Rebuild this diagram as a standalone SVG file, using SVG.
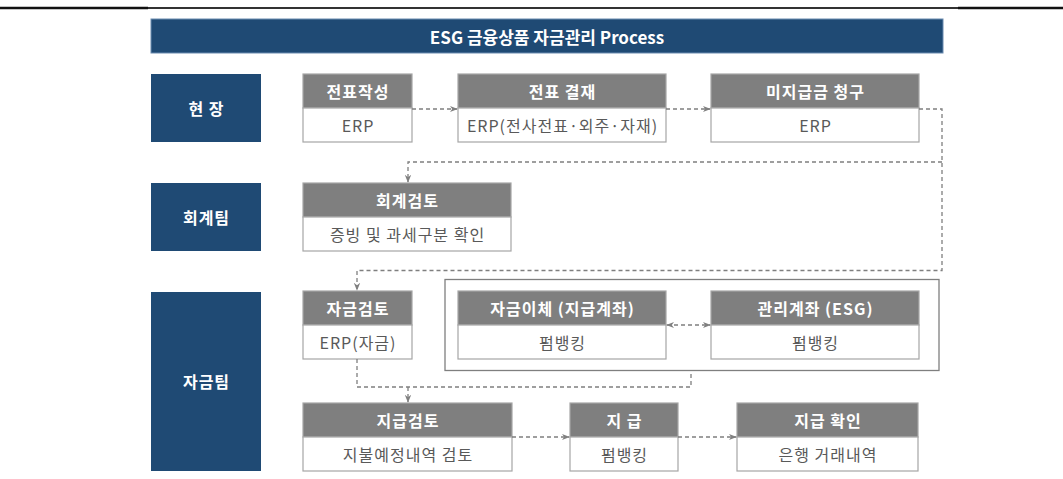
<svg xmlns="http://www.w3.org/2000/svg" width="1063" height="479" viewBox="0 0 1063 479">
<defs>
<style>
.lbl{fill:#1f4a74;}
.lbt{fill:#ffffff;font-family:"Noto Sans CJK KR","Noto Sans",sans-serif;font-weight:bold;font-size:16px;letter-spacing:1px;text-anchor:middle;dominant-baseline:central;}
.tt{fill:#ffffff;font-family:"Noto Sans CJK KR","Noto Sans",sans-serif;font-weight:bold;font-size:17px;text-anchor:middle;dominant-baseline:central;}
.hd{fill:#7f7f7f;stroke:#a6a6a6;stroke-width:1.2;}
.bd{fill:#ffffff;stroke:#a6a6a6;stroke-width:1.2;}
.ht{fill:#ffffff;font-family:"Noto Sans CJK KR","Noto Sans",sans-serif;font-weight:bold;font-size:16px;letter-spacing:1px;text-anchor:middle;dominant-baseline:central;}
.bt{fill:#595959;font-family:"Noto Sans CJK KR","Noto Sans",sans-serif;font-size:16px;letter-spacing:1px;text-anchor:middle;dominant-baseline:central;}
.cn{fill:none;stroke:#7f7f7f;stroke-width:1.3;stroke-dasharray:4 3;}
</style>
<marker id="ah" viewBox="0 0 10 10" refX="9" refY="5" markerWidth="8" markerHeight="8" markerUnits="userSpaceOnUse" orient="auto-start-reverse">
<path d="M0,1 L10,5 L0,9 L3,5 Z" fill="#7f7f7f"/>
</marker>
</defs>
<rect width="1063" height="479" fill="#ffffff"/>
<g id="topline">
<line x1="0" y1="8" x2="148" y2="8" stroke="#111" stroke-width="2.5"/>
<line x1="148" y1="8" x2="958" y2="8" stroke="#333" stroke-width="2"/>
<line x1="958" y1="8" x2="1063" y2="8" stroke="#111" stroke-width="2.5"/>
</g>
<g id="title">
<rect x="151" y="19" width="792" height="34" fill="#1f4a74" stroke="#6b8bb0" stroke-width="1"/>
<text x="547" y="36" class="tt">ESG 금융상품 자금관리 Process</text>
</g>
<g id="lane-hyeonjang">
<rect x="151" y="74" width="110" height="68" class="lbl"/>
<text x="206.5" y="108" class="lbt">현 장</text>
</g>
<g id="lane-hoegye">
<rect x="151" y="183" width="110" height="68" class="lbl"/>
<text x="206.5" y="217" class="lbt">회계팀</text>
</g>
<g id="lane-jageum">
<rect x="151" y="292" width="110" height="179" class="lbl"/>
<text x="206.5" y="381" class="lbt">자금팀</text>
</g>
<g id="frame">
<rect x="445" y="279.5" width="494" height="91" fill="none" stroke="#7f7f7f" stroke-width="1.3"/>
</g>
<g id="n1">
<rect x="303" y="74" width="109" height="34" class="hd"/>
<rect x="303" y="108" width="109" height="34" class="bd"/>
<text x="358" y="91" class="ht">전표작성</text>
<text x="358" y="125" class="bt">ERP</text>
</g>
<g id="n2">
<rect x="458" y="74" width="208" height="34" class="hd"/>
<rect x="458" y="108" width="208" height="34" class="bd"/>
<text x="562.5" y="91" class="ht">전표 결재</text>
<text x="562.5" y="125" class="bt">ERP(전사전표·외주·자재)</text>
</g>
<g id="n3">
<rect x="711" y="74" width="208" height="34" class="hd"/>
<rect x="711" y="108" width="208" height="34" class="bd"/>
<text x="815.5" y="91" class="ht">미지급금 청구</text>
<text x="815.5" y="125" class="bt">ERP</text>
</g>
<g id="n4">
<rect x="303" y="183" width="208" height="34" class="hd"/>
<rect x="303" y="217" width="208" height="34" class="bd"/>
<text x="407.5" y="200" class="ht">회계검토</text>
<text x="407.5" y="234" class="bt">증빙 및 과세구분 확인</text>
</g>
<g id="n5">
<rect x="303" y="291" width="109" height="34" class="hd"/>
<rect x="303" y="325" width="109" height="34" class="bd"/>
<text x="358" y="308" class="ht">자금검토</text>
<text x="358" y="342" class="bt">ERP(자금)</text>
</g>
<g id="n6">
<rect x="458" y="291" width="208" height="34" class="hd"/>
<rect x="458" y="325" width="208" height="34" class="bd"/>
<text x="562.5" y="308" class="ht">자금이체 (지급계좌)</text>
<text x="562.5" y="342" class="bt">펌뱅킹</text>
</g>
<g id="n7">
<rect x="711" y="291" width="208" height="34" class="hd"/>
<rect x="711" y="325" width="208" height="34" class="bd"/>
<text x="815.5" y="308" class="ht">관리계좌 (ESG)</text>
<text x="815.5" y="342" class="bt">펌뱅킹</text>
</g>
<g id="n8">
<rect x="303" y="403" width="209" height="34" class="hd"/>
<rect x="303" y="437" width="209" height="34" class="bd"/>
<text x="408" y="420" class="ht">지급검토</text>
<text x="408" y="454" class="bt">지불예정내역 검토</text>
</g>
<g id="n9">
<rect x="570" y="403" width="108" height="34" class="hd"/>
<rect x="570" y="437" width="108" height="34" class="bd"/>
<text x="624.5" y="420" class="ht">지 급</text>
<text x="624.5" y="454" class="bt">펌뱅킹</text>
</g>
<g id="n10">
<rect x="737" y="403" width="181" height="34" class="hd"/>
<rect x="737" y="437" width="181" height="34" class="bd"/>
<text x="828" y="420" class="ht">지급 확인</text>
<text x="828" y="454" class="bt">은행 거래내역</text>
</g>
<g id="connectors">
<path class="cn" d="M412,109 L457,109" marker-end="url(#ah)"/>
<path class="cn" d="M666,109 L710,109" marker-end="url(#ah)"/>
<path class="cn" d="M919,109 L942,109 L942,270.5 L357,270.5 L357,290" marker-end="url(#ah)"/>
<path class="cn" d="M942,162 L408,162 L408,182" marker-end="url(#ah)"/>
<path class="cn" d="M667,325 L710,325" marker-start="url(#ah)" marker-end="url(#ah)"/>
<path class="cn" d="M357,359 L357,387 L691,387 L691,371"/>
<path class="cn" d="M408,387 L408,402" marker-end="url(#ah)"/>
<path class="cn" d="M512,437 L569,437" marker-end="url(#ah)"/>
<path class="cn" d="M678,437 L736,437" marker-end="url(#ah)"/>
</g>
</svg>
